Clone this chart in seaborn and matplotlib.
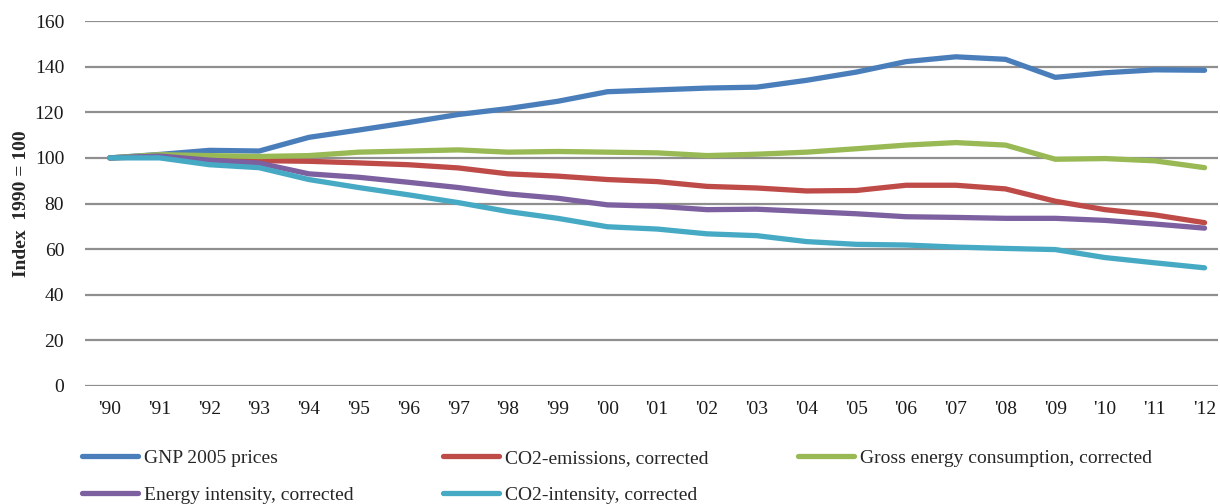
import matplotlib
matplotlib.use("Agg")
import matplotlib.pyplot as plt
import seaborn as sns
import pandas as pd

years = ["'90", "'91", "'92", "'93", "'94", "'95", "'96", "'97", "'98", "'99", "'00",
         "'01", "'02", "'03", "'04", "'05", "'06", "'07", "'08", "'09", "'10", "'11", "'12"]

gnp = [100, 101.5, 103.3, 103.0, 109.0, 112.2, 115.5, 119.0, 121.6, 124.8, 129.0,
       129.8, 130.6, 131.0, 134.0, 137.6, 142.2, 144.3, 143.2, 135.3, 137.3, 138.6, 138.4]
co2_emissions = [100, 100.6, 99.5, 98.8, 98.5, 97.8, 97.0, 95.6, 93.0, 92.0, 90.5,
                 89.6, 87.5, 86.8, 85.5, 85.7, 88.0, 88.0, 86.4, 81.0, 77.3, 75.0, 71.6]
gross_energy = [100, 101.4, 101.0, 100.6, 101.0, 102.5, 103.0, 103.5, 102.5, 102.8, 102.5,
                102.2, 101.0, 101.6, 102.5, 104.0, 105.6, 106.7, 105.6, 99.4, 99.7, 98.7, 95.7]
energy_intensity = [100, 100.8, 99.0, 97.7, 93.0, 91.5, 89.3, 87.0, 84.2, 82.3, 79.4,
                    78.8, 77.3, 77.5, 76.5, 75.5, 74.2, 73.9, 73.5, 73.5, 72.6, 71.0, 69.2]
co2_intensity = [100, 100.0, 97.0, 95.7, 90.5, 87.0, 83.8, 80.4, 76.5, 73.5, 69.8,
                 68.8, 66.7, 65.9, 63.3, 62.1, 61.8, 60.9, 60.3, 59.8, 56.3, 54.0, 51.8]

series = {
    "GNP 2005 prices": gnp,
    "CO2-emissions, corrected": co2_emissions,
    "Gross energy consumption, corrected": gross_energy,
    "Energy intensity, corrected": energy_intensity,
    "CO2-intensity, corrected": co2_intensity,
}
colors = ["#4a7ebb", "#be4b48", "#98b954", "#7d60a0", "#46aac5"]

rows = []
for name, vals in series.items():
    for i, v in enumerate(vals):
        rows.append({"pos": i, "value": v, "series": name})
df = pd.DataFrame(rows)

sns.set_theme(style="white")
plt.rcParams["font.family"] = ["Liberation Serif", "DejaVu Serif"]

fig = plt.figure(figsize=(12.2, 5.04), dpi=100)
ax = fig.add_axes([85 / 1220, 1 - 386 / 504, (1218 - 85) / 1220, (386 - 21) / 504])

sns.lineplot(data=df, x="pos", y="value", hue="series", palette=colors,
             hue_order=list(series.keys()), linewidth=3.8, ax=ax, legend=False,
             solid_capstyle="round", solid_joinstyle="round")

ax.set_ylim(0, 160)
ax.set_xlim(-0.5, 22.27)
ax.set_yticks(range(0, 161, 20))
ax.set_xticks(range(len(years)))
ax.set_xticklabels(years)
ax.yaxis.grid(True, color="#8f8f8f", linewidth=1.6)
ax.xaxis.grid(False)
ax.set_axisbelow(True)
for s in ax.spines.values():
    s.set_visible(False)
ax.tick_params(axis="both", length=0, labelsize=14, colors="#1a1a1a")
ax.tick_params(axis="y", pad=15)
ax.tick_params(axis="x", pad=11)
ax.set_xlabel("")
ax.set_ylabel("Index  1990 = 100", fontsize=14, fontweight="bold", labelpad=3)

lines = ax.get_lines()
names = list(series.keys())
order = [0, 3, 1, 4, 2]
fig.legend([lines[i] for i in order], [names[i] for i in order],
           ncol=3, loc="upper left", bbox_to_anchor=(64 / 1220, 1 - 432 / 504),
           frameon=False, fontsize=14, handlelength=2.9, handletextpad=0.3,
           columnspacing=4.6, labelspacing=1.0)

fig.savefig("out.png", dpi=100)
